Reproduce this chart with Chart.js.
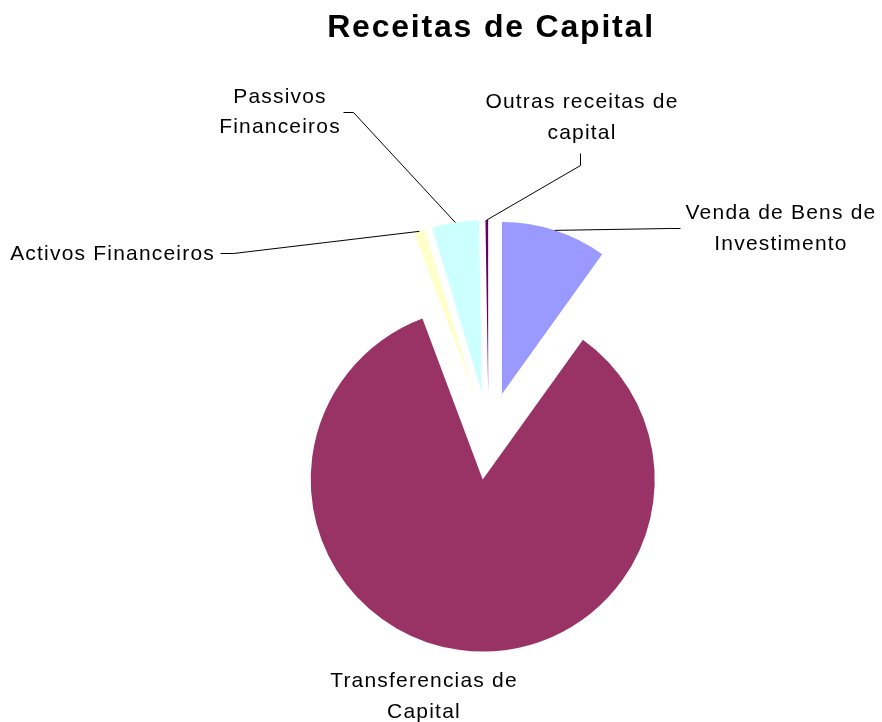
<!DOCTYPE html>
<html>
<head>
<meta charset="utf-8">
<script src="https://cdn.jsdelivr.net/npm/chart.js@4/dist/chart.umd.min.js"></script>
<style>
  html, body { margin: 0; padding: 0; background: #fff; }
  #wrap { width: 882px; height: 722px; position: relative; }
</style>
</head>
<body>
<div id="wrap"><canvas id="pieChart"></canvas></div>
<script>
// Receitas de Capital - pie chart with exploded slices

const CHART_TITLE = 'Receitas de Capital';

// categories, in drawing order (clockwise from 12 o'clock)
const CATEGORIES = [
  'Venda de Bens de Investimento',
  'Transferencias de Capital',
  'Activos Financeiros',
  'Passivos Financeiros',
  'Outras receitas de capital'
];

// share of each category (%)
const SHARES = [9.9, 84.4, 1.05, 4.4, 0.25];

// label text as it is wrapped in the picture
const LABEL_LINES = [
  ['Venda de Bens de', 'Investimento'],
  ['Transferencias de', 'Capital'],
  ['Activos Financeiros'],
  ['Passivos', 'Financeiros'],
  ['Outras receitas de', 'capital']
];

const SLICE_COLORS = ['#9999FF', '#993366', '#FFFFCC', '#CCFFFF', '#660066'];

// label placement: text centre x, baselines, and leader line elbow points
const LABEL_LAYOUT = [
  { x: 781, ys: [219, 250], align: 'center', leader: [[670, 228], [680, 228]] },
  { x: 424, ys: [687, 718], align: 'center', leader: null },
  { x: 215, ys: [260], align: 'right', leader: [[233, 253], [220, 253]] },
  { x: 280, ys: [103, 133], align: 'center', leader: [[353, 112], [343, 112]] },
  { x: 582, ys: [108, 139], align: 'center', leader: [[580, 165], [580, 153]] }
];

const EXPLODE = 44; // px each slice is pulled out from the centre

// push every arc outward along its middle angle (like Excel's exploded pie)
const explodePlugin = {
  id: 'explode',
  afterDatasetsUpdate(chart) {
    const meta = chart.getDatasetMeta(0);
    meta.data.forEach(arc => {
      const mid = (arc.startAngle + arc.endAngle) / 2;
      arc.x += Math.cos(mid) * EXPLODE;
      arc.y += Math.sin(mid) * EXPLODE;
    });
  }
};

// title, slice labels and leader lines
const labelPlugin = {
  id: 'sliceLabels',
  afterDatasetsDraw(chart) {
    const ctx = chart.ctx;
    const meta = chart.getDatasetMeta(0);
    ctx.save();

    // title
    ctx.fillStyle = '#000';
    ctx.textAlign = 'center';
    ctx.textBaseline = 'alphabetic';
    ctx.font = 'bold 32px "Liberation Sans", Arial, sans-serif';
    if ('letterSpacing' in ctx) ctx.letterSpacing = '1.8px';
    ctx.fillText(CHART_TITLE, 491, 37);

    // leader lines
    ctx.strokeStyle = '#000';
    ctx.lineWidth = 1;
    meta.data.forEach((arc, i) => {
      const lay = LABEL_LAYOUT[i];
      if (!lay.leader) return;
      const mid = (arc.startAngle + arc.endAngle) / 2;
      const sx = arc.x + Math.cos(mid) * arc.outerRadius;
      const sy = arc.y + Math.sin(mid) * arc.outerRadius;
      ctx.beginPath();
      ctx.moveTo(sx, sy);
      lay.leader.forEach(p => ctx.lineTo(p[0] + 0.5, p[1] + 0.5));
      ctx.stroke();
    });

    // label text
    ctx.font = '21px "Liberation Sans", Arial, sans-serif';
    if ('letterSpacing' in ctx) ctx.letterSpacing = '1.2px';
    LABEL_LINES.forEach((lines, i) => {
      const lay = LABEL_LAYOUT[i];
      ctx.textAlign = lay.align;
      lines.forEach((t, j) => ctx.fillText(t, lay.x, lay.ys[j]));
    });

    ctx.restore();
  }
};

new Chart(document.getElementById('pieChart').getContext('2d'), {
  type: 'pie',
  data: {
    labels: CATEGORIES,
    datasets: [{
      data: SHARES,
      backgroundColor: SLICE_COLORS,
      borderWidth: 0,
      clip: false
    }]
  },
  options: {
    responsive: true,
    maintainAspectRatio: false,
    animation: false,
    events: [],
    radius: 172,
    layout: { padding: { left: 95, right: 0, top: 150, bottom: 0 } },
    plugins: {
      legend: { display: false },
      title: { display: false },
      tooltip: { enabled: false }
    }
  },
  plugins: [explodePlugin, labelPlugin]
});
</script>
</body>
</html>
